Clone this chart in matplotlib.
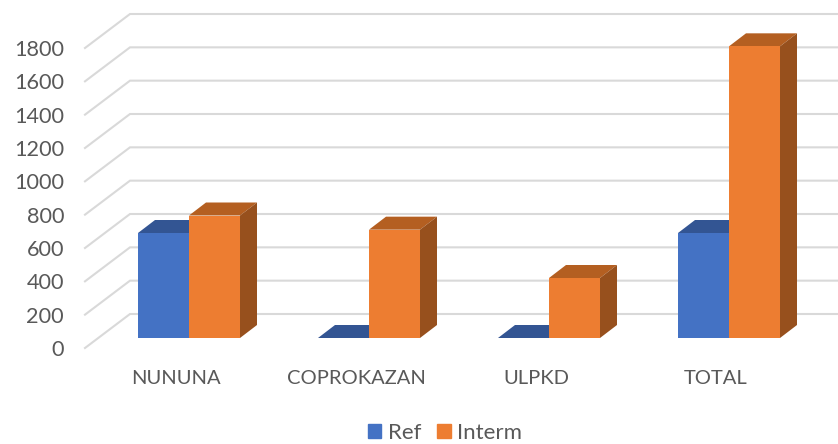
import matplotlib
matplotlib.use('Agg')
import matplotlib.pyplot as plt
from matplotlib.patches import Patch

categories = ['NUNUNA', 'COPROKAZAN', 'ULPKD', 'TOTAL']
ref = [630, 0, 0, 630]
interm = [735, 650, 360, 1750]
axis_ticks = list(range(0, 1801, 200))
series_names = ['Ref', 'Interm']

plt.rcParams['font.family'] = ['Lato', 'DejaVu Sans']

# one px is 1/180 of a category in x and 6 units in y
bar_w = 51 / 180
dx, dy = 17 / 180, 13 * 6
TEXT = '#595959'
GRID = '#D9D9D9'


def draw_bar(ax, x, val, front, top, side):
    ax.fill([x, x + bar_w, x + bar_w + dx, x + dx], [val, val, val + dy, val + dy],
            color=top, lw=0, zorder=3)
    if val > 0:
        ax.fill([x, x + bar_w, x + bar_w, x], [0, 0, val, val], color=front, lw=0, zorder=4)
    ax.fill([x + bar_w, x + bar_w + dx, x + bar_w + dx, x + bar_w],
            [0, dy, val + dy, val], color=side, lw=0, zorder=3)


fig = plt.figure(figsize=(8.38, 4.44), dpi=100)
ax = fig.add_axes([0, 0, 1, 1])
ax.set_xlim(-189 / 180, 649 / 180)
ax.set_ylim(-636, 2028)
ax.axis('off')

# side wall and back wall grid lines
for v in axis_ticks:
    ax.plot([-104 / 180, -59 / 180, 649 / 180], [v - 60, v + 144, v + 144],
            color=GRID, lw=1.5, zorder=1, solid_joinstyle='miter')
    ax.text(-125 / 180, v - 72, str(v), ha='right', va='center', fontsize=15.6, color=TEXT)

for i, name in enumerate(categories):
    draw_bar(ax, i - bar_w, ref[i], '#4472C4', '#335593', '#2A4A80')
    draw_bar(ax, i, interm[i], '#ED7D31', '#B45F21', '#97501D')
    ax.text(i - 13 / 180, -244, name, ha='center', va='center', fontsize=14.5, color=TEXT)

handles = [Patch(color='#4472C4', label=series_names[0]),
           Patch(color='#ED7D31', label=series_names[1])]
ax.legend(handles=handles, loc='lower center', bbox_to_anchor=(0.531, -0.032), ncol=2, frameon=False,
          fontsize=16, labelcolor=TEXT, handlelength=0.62, handleheight=0.62,
          handletextpad=0.3, columnspacing=0.7, borderpad=0.2)

fig.savefig('out.png', dpi=100)
